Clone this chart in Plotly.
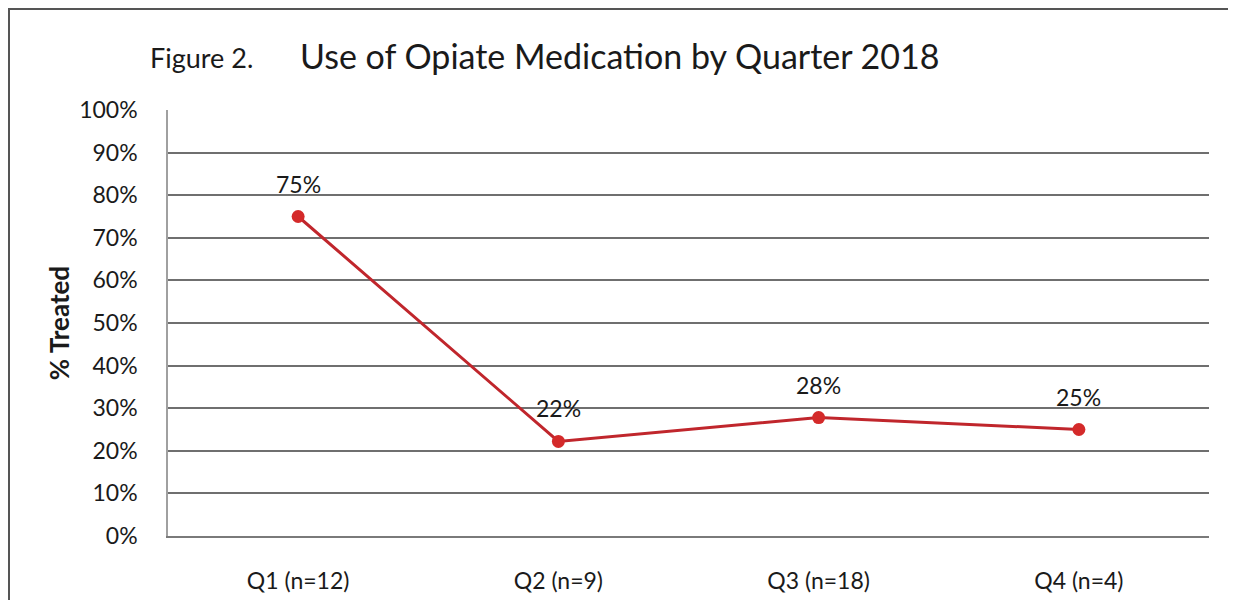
import plotly.graph_objects as go

categories = ["Q1 (n=12)", "Q2 (n=9)", "Q3 (n=18)", "Q4 (n=4)"]
pct_treated = [0.75, 0.222, 0.278, 0.25]
point_labels = ["75%", "22%", "28%", "25%"]
y_ticks = [i / 10 for i in range(11)]
y_tick_labels = [f"{i*10}%" for i in range(11)]

FONT = "Lato, Open Sans, sans-serif"
TXT = "#1a1a1a"

fig = go.Figure()
fig.add_trace(go.Scatter(
    x=categories, y=pct_treated,
    mode="lines+markers",
    line=dict(color="#c0262c", width=3),
    marker=dict(color="#d42a2a", size=13),
    cliponaxis=False,
    showlegend=False,
))

for cat, val, lab in zip(categories, pct_treated, point_labels):
    fig.add_annotation(x=cat, y=val, text=lab, showarrow=False,
                       yshift=33, font=dict(family=FONT, size=23, color=TXT))

fig.update_layout(
    width=1228, height=592,
    margin=dict(l=160, r=27, t=102, b=64),
    paper_bgcolor="white", plot_bgcolor="white",
    font=dict(family=FONT, color=TXT),
    xaxis=dict(
        type="category", range=[-0.5, 3.5], automargin=False,
        showgrid=False, showline=True, linecolor="#7a7a7a", linewidth=1.5,
        zeroline=False, ticks="", ticklabelstandoff=24,
        tickfont=dict(family=FONT, size=23, color=TXT),
    ),
    yaxis=dict(
        range=[0, 1], tickvals=y_ticks, ticktext=y_tick_labels,
        automargin=False,
        showgrid=True, gridcolor="#6f6f6f", gridwidth=1.5,
        showline=True, linecolor="#a0a0a0", linewidth=1.5,
        zeroline=False, ticks="", ticklabelstandoff=24,
        tickfont=dict(family=FONT, size=23, color=TXT),
        title=dict(text="<b>% Treated</b>", standoff=2,
                   font=dict(family=FONT, size=26, color=TXT)),
    ),
)

fig.add_annotation(
    xref="paper", yref="paper", x=0, y=1, text="Figure 2.",
    xanchor="left", yanchor="middle", xshift=-20, yshift=53,
    showarrow=False, font=dict(family=FONT, size=27, color=TXT),
)
fig.add_annotation(
    xref="paper", yref="paper", x=0, y=1,
    text="Use of Opiate Medication by Quarter 2018",
    xanchor="left", yanchor="middle", xshift=130, yshift=55,
    showarrow=False, font=dict(family=FONT, size=34, color=TXT),
)

# outer frame (top and left edges)
fig.add_shape(type="line", xref="paper", yref="paper",
              x0=-160 / 1041, x1=1.1, y0=1 + 101 / 426, y1=1 + 101 / 426,
              line=dict(color="#555555", width=2))
fig.add_shape(type="line", xref="paper", yref="paper",
              x0=-159 / 1041, x1=-159 / 1041, y0=1 + 102 / 426, y1=-0.2,
              line=dict(color="#555555", width=2))

fig.write_html("out.html")
